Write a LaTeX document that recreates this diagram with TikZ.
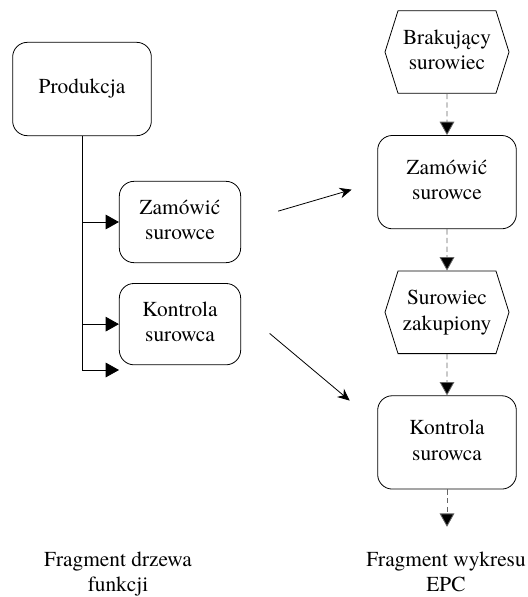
\documentclass[tikz,border=0pt]{standalone}
\usepackage{fontspec}
\setmainfont{texgyretermes-regular.otf}
\usetikzlibrary{shapes.symbols, positioning, arrows.meta}

\begin{document}
\begin{tikzpicture}[x=0.75pt, y=-0.75pt, font=\fontsize{16}{19}\selectfont, line width=0.6pt]
    \tikzset{function/.style={rectangle, rounded corners=11pt, draw=black, fill=white, minimum width=104pt, minimum height=70pt}}
    \tikzset{leaf/.style={rectangle, rounded corners=11pt, draw=black, fill=white, minimum width=91pt, minimum height=61pt}}
    \tikzset{event/.style={signal, signal to=west and east, signal pointer angle=145, draw=black, fill=white, minimum width=93pt, minimum height=62pt}}
    \tikzset{tree/.style={-{Triangle[length=10pt, width=11pt]}}}
    \tikzset{flow/.style={draw=black!60, dash pattern=on 4pt off 2.5pt, -{Triangle[length=10pt, width=11pt, fill=black]}}}
    \tikzset{link/.style={-{Stealth[length=9pt, width=8pt]}}}
    \useasboundingbox (0,0) rectangle (528,597);

    % Function tree
    \begin{scope}[node distance=15pt]
    \node[function] (prod) at (82, 89) {Produkcja};
    \node[leaf] (zamL) at (180, 222) {\begin{tabular}{@{}c@{}}
         Zamówić\\
         surowce
    \end{tabular}};
    \node[leaf, below=of zamL] (konL) {\begin{tabular}{@{}c@{}}
         Kontrola\\
         surowca
    \end{tabular}};
    \coordinate (leaf3) at (119, 370);
    \end{scope}

    \draw[tree] (prod.south) |- (leaf3);
    \draw[tree] (prod.south |- zamL.west) -- (zamL.west);
    \draw[tree] (prod.south |- konL.west) -- (konL.west);

    % EPC
    \begin{scope}[node distance=31pt]
    \node[event] (brak) at (447, 52) {\begin{tabular}{@{}c@{}}
         Brakujący\\
         surowiec
    \end{tabular}};
    \node[function, below=of brak] (zamE) {\begin{tabular}{@{}c@{}}
         Zamówić\\
         surowce
    \end{tabular}};
    \node[event, below=of zamE] (sur) {\begin{tabular}{@{}c@{}}
         Surowiec\\
         zakupiony
    \end{tabular}};
    \node[function, below=of sur] (konE) {\begin{tabular}{@{}c@{}}
         Kontrola\\
         surowca
    \end{tabular}};
    \coordinate[below=28pt of konE] (epc end);
    \end{scope}

    \draw[flow] (brak) -- (zamE);
    \draw[flow] (zamE) -- (sur);
    \draw[flow] (sur) -- (konE);
    \draw[flow] (konE) -- (epc end);

    \draw[link, shorten <=29pt, shorten >=20pt] (zamL.east) -- (zamE.west);
    \draw[link, shorten <=28pt, shorten >=27pt] ([yshift=11pt]konL.east) -- ([yshift=14pt]konE.west);

    % Captions
    \node (cap tree) at (118, 574) {\begin{tabular}{@{}c@{}}
         Fragment drzewa\\
         funkcji
    \end{tabular}};
    \node (cap epc) at (446, 574) {\begin{tabular}{@{}c@{}}
         Fragment wykresu\\
         EPC
    \end{tabular}};
\end{tikzpicture}
\end{document}
